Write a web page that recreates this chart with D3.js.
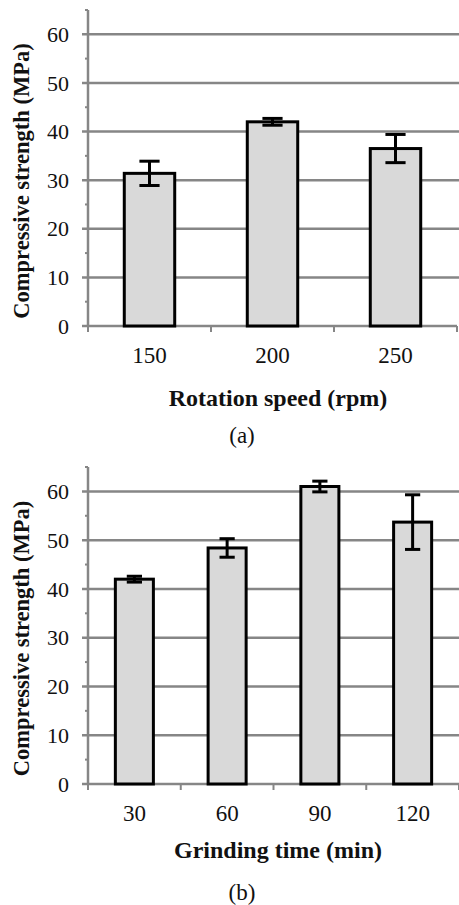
<!DOCTYPE html>
<html>
<head>
<meta charset="utf-8">
<script src="https://cdn.jsdelivr.net/npm/d3@7"></script>
<style>
  body { margin: 0; background: #fff; }
</style>
</head>
<body>
<script>
// panel (a)
const speedCats = ["150", "200", "250"];
const speedMeans = [31.4, 42.0, 36.5];
const speedErr = [2.5, 0.7, 2.9];

// panel (b)
const timeCats = ["30", "60", "90", "120"];
const timeMeans = [42.0, 48.4, 61.0, 53.7];
const timeErr = [0.6, 1.9, 1.1, 5.6];

const yTicks = [0, 10, 20, 30, 40, 50, 60];
const yMinor = [5, 15, 25, 35, 45, 55, 65];

function main() {
    const width = 459;
    const height = 905;

    const svg = d3.select("body").append("svg")
        .attr("width", width)
        .attr("height", height);

    drawPanel(svg, {
        cats: speedCats, means: speedMeans, errs: speedErr,
        x0: 88, x1: 457, yTop: 10, yBottom: 326,
        xTitle: "Rotation speed (rpm)", caption: "(a)",
        tickY: 363, titleY: 406, capY: 443
    });

    drawPanel(svg, {
        cats: timeCats, means: timeMeans, errs: timeErr,
        x0: 88, x1: 459, yTop: 467, yBottom: 784,
        xTitle: "Grinding time (min)", caption: "(b)",
        tickY: 821, titleY: 858, capY: 900
    });
}

function drawPanel(svg, p) {
    const grey = "#868686";
    const ink = "#111";
    const serif = "'Liberation Serif', 'Times New Roman', serif";

    const x = d3.scaleBand()
        .domain(p.cats)
        .range([p.x0, p.x1])
        .paddingInner(0.59)
        .paddingOuter(0.295);

    const y = d3.scaleLinear()
        .domain([0, 65])
        .range([p.yBottom, p.yTop]);

    const g = svg.append("g");

    // gridlines
    g.append("g").selectAll("line")
        .data(yTicks.filter(d => d > 0))
        .enter().append("line")
        .attr("x1", p.x0 - 6)
        .attr("x2", p.x1 + 2)
        .attr("y1", d => y(d))
        .attr("y2", d => y(d))
        .style("stroke", grey)
        .style("stroke-width", 2.5);

    // minor ticks
    g.append("g").selectAll("line")
        .data(yMinor)
        .enter().append("line")
        .attr("x1", p.x0 - 3)
        .attr("x2", p.x0)
        .attr("y1", d => y(d))
        .attr("y2", d => y(d))
        .style("stroke", grey)
        .style("stroke-width", 2);

    // y axis line
    g.append("line")
        .attr("x1", p.x0).attr("x2", p.x0)
        .attr("y1", y(65)).attr("y2", y(0))
        .style("stroke", grey)
        .style("stroke-width", 2.5);

    // x axis line + ticks
    g.append("line")
        .attr("x1", p.x0 - 6).attr("x2", p.x1)
        .attr("y1", y(0)).attr("y2", y(0))
        .style("stroke", grey)
        .style("stroke-width", 2.5);

    const step = x.step();
    const bounds = p.cats.map(c => x(c) - step * x.paddingInner() / 2);
    bounds.push(x(p.cats[p.cats.length - 1]) + x.bandwidth() + step * x.paddingInner() / 2);
    g.append("g").selectAll("line")
        .data(bounds)
        .enter().append("line")
        .attr("x1", d => d).attr("x2", d => d)
        .attr("y1", y(0)).attr("y2", y(0) + 6)
        .style("stroke", grey)
        .style("stroke-width", 2);

    // bars
    const data = p.cats.map((c, i) => ({cat: c, mean: p.means[i], err: p.errs[i]}));
    g.append("g").selectAll("rect")
        .data(data)
        .enter().append("rect")
        .attr("x", d => x(d.cat))
        .attr("y", d => y(d.mean))
        .attr("width", x.bandwidth())
        .attr("height", d => y(0) - y(d.mean))
        .style("fill", "#d9d9d9")
        .style("stroke", "#000")
        .style("stroke-width", 3);

    // error bars
    const capW = x.bandwidth() * 0.4;
    const eb = g.append("g").selectAll("g")
        .data(data)
        .enter().append("g")
        .style("stroke", "#000")
        .style("stroke-width", 3);
    eb.append("line")
        .attr("x1", d => x(d.cat) + x.bandwidth() / 2)
        .attr("x2", d => x(d.cat) + x.bandwidth() / 2)
        .attr("y1", d => y(d.mean + d.err))
        .attr("y2", d => y(d.mean - d.err));
    eb.append("line")
        .attr("x1", d => x(d.cat) + x.bandwidth() / 2 - capW / 2)
        .attr("x2", d => x(d.cat) + x.bandwidth() / 2 + capW / 2)
        .attr("y1", d => y(d.mean + d.err))
        .attr("y2", d => y(d.mean + d.err));
    eb.append("line")
        .attr("x1", d => x(d.cat) + x.bandwidth() / 2 - capW / 2)
        .attr("x2", d => x(d.cat) + x.bandwidth() / 2 + capW / 2)
        .attr("y1", d => y(d.mean - d.err))
        .attr("y2", d => y(d.mean - d.err));

    // y tick labels
    g.append("g").selectAll("text")
        .data(yTicks)
        .enter().append("text")
        .attr("x", p.x0 - 19)
        .attr("y", d => y(d))
        .attr("dy", "0.35em")
        .style("text-anchor", "end")
        .style("font-family", serif)
        .style("font-size", "22px")
        .style("fill", ink)
        .text(d => d);

    // x tick labels
    g.append("g").selectAll("text")
        .data(p.cats)
        .enter().append("text")
        .attr("x", d => x(d) + x.bandwidth() / 2)
        .attr("y", p.tickY)
        .style("text-anchor", "middle")
        .style("font-family", serif)
        .style("font-size", "23px")
        .style("fill", ink)
        .text(d => d);

    // y axis title
    g.append("text")
        .attr("transform", "translate(29," + (y(32.5) + 13) + ") rotate(-90)")
        .style("text-anchor", "middle")
        .style("font-family", serif)
        .style("font-weight", "bold")
        .style("font-size", "22.5px")
        .style("fill", ink)
        .text("Compressive strength (MPa)");

    // x axis title
    g.append("text")
        .attr("x", 278)
        .attr("y", p.titleY)
        .style("text-anchor", "middle")
        .style("font-family", serif)
        .style("font-weight", "bold")
        .style("font-size", "24px")
        .style("fill", ink)
        .text(p.xTitle);

    // caption
    g.append("text")
        .attr("x", 242)
        .attr("y", p.capY)
        .style("text-anchor", "middle")
        .style("font-family", serif)
        .style("font-size", "23px")
        .style("fill", ink)
        .text(p.caption);
}

main();
</script>
</body>
</html>
